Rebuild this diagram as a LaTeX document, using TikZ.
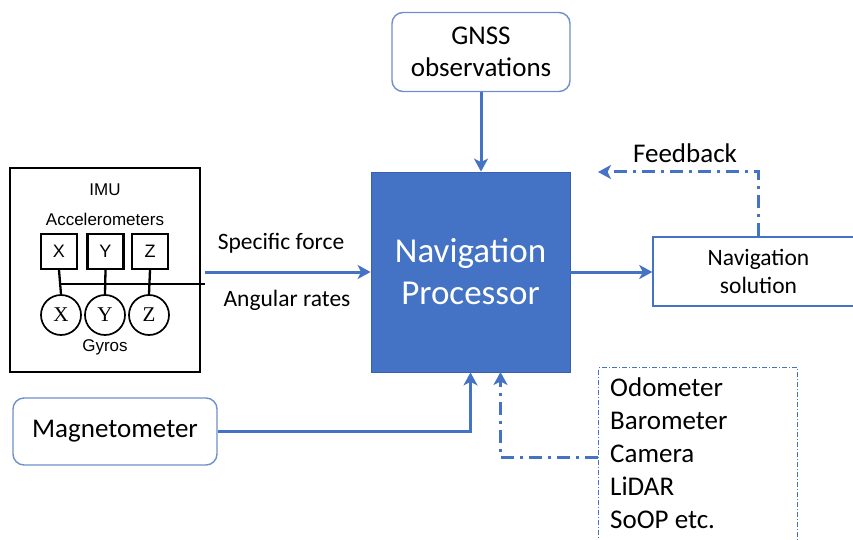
\documentclass[tikz,border=0pt]{standalone}
\usepackage{fontspec}
\setmainfont{Carlito}
\newfontfamily\arialf{Liberation Sans}
\newfontfamily\timesf{Liberation Serif}
\usetikzlibrary{arrows.meta}
\definecolor{nblue}{HTML}{4472C4}
\definecolor{bblue}{HTML}{6F8FCB}
\tikzset{
  conn/.style={draw=nblue, line width=3pt, -{Stealth[length=13pt,width=14pt,inset=3.5pt]}},
  dconn/.style={conn, dash pattern=on 13pt off 6pt on 3pt off 6pt},
  rbox/.style={draw=bblue, line width=1.4pt, rounded corners=11pt, align=center, font=\fontsize{27}{32}\selectfont},
  imutext/.style={font=\arialf\fontsize{17}{20}\selectfont, inner sep=0pt},
  sqbox/.style={draw=black, line width=2.3pt, minimum width=36pt, minimum height=35pt, inner sep=0pt, font=\arialf\fontsize{18}{20}\selectfont},
  cbox/.style={draw=black, line width=1.7pt, circle, minimum size=40pt, inner sep=0pt, font=\timesf\fontsize{21}{22}\selectfont},
  lbl/.style={font=\fontsize{23.5}{28}\selectfont, inner sep=0pt}
}
\begin{document}
\begin{tikzpicture}[x=1pt,y=-1pt]
\useasboundingbox (0,0) rectangle (853,540);
\clip (0,0) rectangle (853,540);

% GNSS
\node[rbox, minimum width=178pt, minimum height=79pt] (gnss) at (481,52) {GNSS\\observations};

% Navigation processor
\node[fill=nblue, draw=nblue!85!black, line width=0.8pt, minimum width=199pt, minimum height=200pt,
      text=white, align=center, font=\fontsize{35}{42}\selectfont] (np) at (470.5,272) {Navigation\\Processor};

% Navigation solution
\node[draw=nblue, line width=1.4pt, minimum width=211pt, minimum height=69pt, align=center,
      font=\fontsize{23.5}{28}\selectfont] (ns) at (758.5,271.5) {Navigation\\solution};

% Magnetometer
\node[rbox, minimum width=204pt, minimum height=67pt] (mag) at (115,431.5) {Magnetometer};

% Other sensors
\node[draw=nblue, line width=1pt, dash pattern=on 5pt off 2pt on 1pt off 2pt, anchor=north west,
      minimum width=199pt, minimum height=200pt] (oth) at (598,367) {};
\node[anchor=north west, align=left, inner sep=0pt, font=\fontsize{27}{33}\selectfont] (othtxt) at (610,378)
  {Odometer\\Barometer\\Camera\\LiDAR\\SoOP etc.};

% IMU
\node[draw=black, line width=2.3pt, minimum width=190pt, minimum height=204pt] (imu) at (105,270) {};
\node[imutext, anchor=base] (imulbl) at (105,195) {IMU};
\node[imutext, anchor=base] (acc) at (105,225) {Accelerometers};
\node[imutext, anchor=base] (gyr) at (105,351) {Gyros};
\node[sqbox] (sx) at (59,251.5) {X};
\node[sqbox] (sy) at (105.5,251.5) {Y};
\node[sqbox] (sz) at (150,251.5) {Z};
\node[cbox] (cx) at (61,315) {X};
\node[cbox] (cy) at (105,315) {Y};
\node[cbox] (cz) at (149,315) {Z};
\coordinate (bus) at (205,284);
\draw[line width=2.3pt] (sx.south) -- (cx.north);
\draw[line width=2.3pt] (sy.south) -- (cy.north);
\draw[line width=2.3pt] (sz.south) -- (cz.north);
\draw[line width=2.3pt] (sx.south |- bus) -- (bus);

% connectors
\coordinate (imuout) at (205,272);
\draw[conn] (imuout) -- (np.west);
\node[lbl, anchor=base] (sf) at (281,249) {Specific force};
\node[lbl, anchor=base] (ar) at (287,306) {Angular rates};

\draw[conn] (gnss.south) -- (gnss.south |- np.north);
\draw[conn] (np.east) -- (np.east -| ns.west);

\coordinate (fbend) at (598,172);
\draw[dconn] (ns.north) |- (fbend);
\node[font=\fontsize{27}{32}\selectfont, inner sep=0pt, anchor=base] (fb) at (685,163) {Feedback};

\draw[conn] (mag.east) -| (np.south);

\coordinate (othin) at (598,457);
\coordinate (npin) at (500.5,372);
\draw[dconn] (othin) -| (npin);
\end{tikzpicture}
\end{document}
